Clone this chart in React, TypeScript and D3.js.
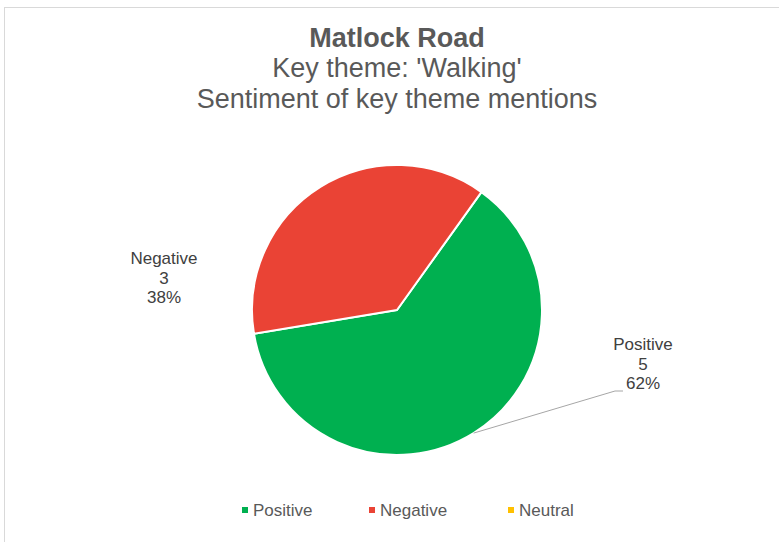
import React from "react";
import * as d3 from "d3";

const categories = ["Positive", "Negative", "Neutral"];
const counts = [5, 3, 0];
const colors = ["#00B050", "#EA4335", "#FFC000"];
const titleLines = ["Matlock Road", "Key theme: 'Walking'", "Sentiment of key theme mentions"];

const W = 779;
const H = 542;

function roundHalfEven(x: number) {
  const f = Math.floor(x);
  const diff = x - f;
  if (Math.abs(diff - 0.5) < 1e-9) return f % 2 === 0 ? f : f + 1;
  return Math.round(x);
}

export default function App() {
  const cx = 397, cy = 310, r = 145;
  const total = d3.sum(counts);
  const startDeg = 35.6;
  const pie = d3.pie<number>().sort(null).value((d) => d)
    .startAngle((startDeg * Math.PI) / 180)
    .endAngle(((startDeg + 360) * Math.PI) / 180);
  const arcs = pie(counts);
  const arcGen = d3.arc<d3.PieArcDatum<number>>().innerRadius(0).outerRadius(r);
  const pct = (v: number) => `${roundHalfEven((v / total) * 100)}%`;

  const labelPos = [
    { x: 643, y: 350 },
    { x: 164, y: 264 },
  ];
  const pa = arcs[0];
  const leadAngle = (pa.startAngle + pa.endAngle) / 2;
  const lx0 = cx + Math.sin(leadAngle) * r;
  const ly0 = cy - Math.cos(leadAngle) * r;

  const font = "'Liberation Sans', Arial, sans-serif";
  const legendX = [242, 369, 508];

  return (
    <svg width={W} height={H} style={{ position: "absolute", left: 0, top: 0 }}>
      <rect x={0} y={0} width={W} height={H} fill="#fff" />
      <rect x={4.5} y={7.5} width={W + 10} height={H + 10} fill="none" stroke="#d9d9d9" strokeWidth={1} />
      <g fontFamily={font} fill="#595959" textAnchor="middle">
        <text x={397} y={47} fontSize={27} fontWeight="bold">{titleLines[0]}</text>
        <text x={397} y={77} fontSize={27}>{titleLines[1]}</text>
        <text x={397} y={108} fontSize={27}>{titleLines[2]}</text>
      </g>
      <g transform={`translate(${cx},${cy})`}>
        {arcs.map((a, i) =>
          a.value > 0 ? (
            <path key={i} d={arcGen(a) || ""} fill={colors[i]} stroke="#fff" strokeWidth={2} strokeLinejoin="round" />
          ) : null
        )}
      </g>
      <polyline
        points={`${lx0},${ly0} 615,391 623,391`}
        fill="none"
        stroke="#a6a6a6"
        strokeWidth={1}
      />
      <g fontFamily={font} fill="#404040" fontSize={17} textAnchor="middle">
        {labelPos.map((p, i) => (
          <text key={i} x={p.x} y={p.y}>
            <tspan x={p.x} dy={0}>{categories[i]}</tspan>
            <tspan x={p.x} dy={19.5}>{counts[i]}</tspan>
            <tspan x={p.x} dy={19.5}>{pct(counts[i])}</tspan>
          </text>
        ))}
      </g>
      <g fontFamily={font} fontSize={17} fill="#595959">
        {categories.map((c, i) => (
          <g key={c}>
            <rect x={legendX[i]} y={507} width={6} height={6} fill={colors[i]} />
            <text x={legendX[i] + 11} y={516}>{c}</text>
          </g>
        ))}
      </g>
    </svg>
  );
}
